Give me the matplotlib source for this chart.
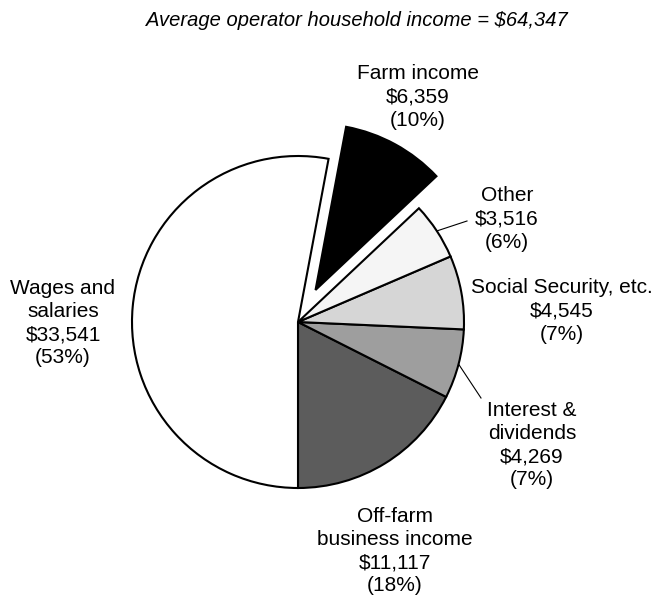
import numpy as np
import matplotlib
matplotlib.use("Agg")
import matplotlib.pyplot as plt

plt.rcParams['font.family'] = ['Liberation Sans', 'DejaVu Sans']

# income components, counterclockwise from the bottom of the pie
names = ["Off-farm\nbusiness income", "Interest &\ndividends", "Social Security, etc.",
         "Other", "Farm income", "Wages and\nsalaries"]
values = [11117, 4269, 4545, 3516, 6359, 33541]
colors = ["#5c5c5c", "#9e9e9e", "#d6d6d6", "#f5f5f5", "#000000", "#ffffff"]
explode = [0, 0, 0, 0, 0.22, 0]
avg_income = 64347

# label anchor points (pixel coords, y from the top)
label_pos = [(395, 551), (532, 445), (562, 311), (507, 219), (418, 97), (63, 323)]
leader = [False, True, False, True, False, False]
leader_end = {1: (481, 398), 3: (467, 221)}

W, H = 654, 596
cx, cy, r = 298, H - 322, 166

fig = plt.figure(figsize=(6.54, 5.96), dpi=100)
ax = fig.add_axes([0, 0, 1, 1])
ax.set_xlim(0, W)
ax.set_ylim(0, H)
ax.axis('off')

# pie() offsets exploded wedges in data units, so scale by the radius
wedges, _ = ax.pie(values, colors=colors, explode=[e * r for e in explode],
                   startangle=-90, center=(cx, cy), radius=r,
                   wedgeprops=dict(edgecolor='black', linewidth=1.5))
ax.set_xlim(0, W)
ax.set_ylim(0, H)

total = sum(values)
for i, (nm, v) in enumerate(zip(names, values)):
    txt = f"{nm}\n${v:,}\n({round(100 * v / total):.0f}%)"
    x, y = label_pos[i]
    ax.text(x, H - y, txt, ha='center', va='center', fontsize=15, linespacing=1.28)
    if leader[i]:
        w = wedges[i]
        mid = np.deg2rad((w.theta1 + w.theta2) / 2)
        ex, ey = leader_end[i]
        ax.plot([cx + r * np.cos(mid), ex], [cy + r * np.sin(mid), H - ey],
                color='black', lw=0.8)

ax.text(357, H - 20, f"Average operator household income = ${avg_income:,}",
        ha='center', va='center', fontsize=14.5, style='italic')

fig.savefig("out.png", dpi=100)
